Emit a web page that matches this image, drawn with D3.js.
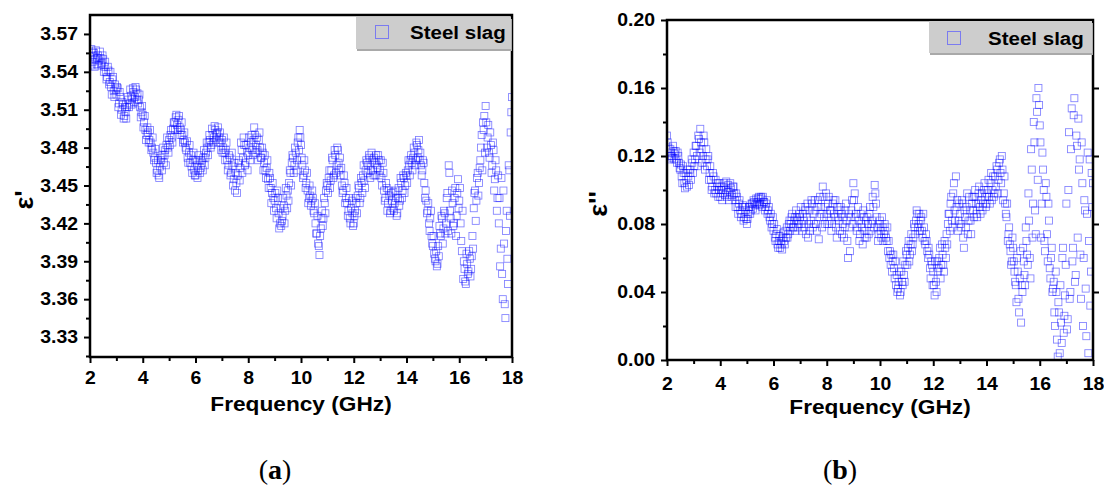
<!DOCTYPE html>
<html><head><meta charset="utf-8">
<script src="https://cdn.jsdelivr.net/npm/d3@7"></script>
<style>body{margin:0;background:#fff}</style>
</head><body><svg id="c" width="1104" height="494"></svg>
<script>
const freq = [
2,2.05,2.1,2.15,2.2,2.25,2.3,2.35,2.4,2.45,
2.5,2.55,2.6,2.65,2.7,2.75,2.8,2.85,2.9,2.95,
3,3.05,3.1,3.15,3.2,3.25,3.3,3.35,3.4,3.45,
3.5,3.55,3.6,3.65,3.7,3.75,3.8,3.85,3.9,3.95,
4,4.05,4.1,4.15,4.2,4.25,4.3,4.35,4.4,4.45,
4.5,4.55,4.6,4.65,4.7,4.75,4.8,4.85,4.9,4.95,
5,5.05,5.1,5.15,5.2,5.25,5.3,5.35,5.4,5.45,
5.5,5.55,5.6,5.65,5.7,5.75,5.8,5.85,5.9,5.95,
6,6.05,6.1,6.15,6.2,6.25,6.3,6.35,6.4,6.45,
6.5,6.55,6.6,6.65,6.7,6.75,6.8,6.85,6.9,6.95,
7,7.05,7.1,7.15,7.2,7.25,7.3,7.35,7.4,7.45,
7.5,7.55,7.6,7.65,7.7,7.75,7.8,7.85,7.9,7.95,
8,8.05,8.1,8.15,8.2,8.25,8.3,8.35,8.4,8.45,
8.5,8.55,8.6,8.65,8.7,8.75,8.8,8.85,8.9,8.95,
9,9.05,9.1,9.15,9.2,9.25,9.3,9.35,9.4,9.45,
9.5,9.55,9.6,9.65,9.7,9.75,9.8,9.85,9.9,9.95,
10,10.05,10.1,10.15,10.2,10.25,10.3,10.35,10.4,10.45,
10.5,10.55,10.6,10.65,10.7,10.75,10.8,10.85,10.9,10.95,
11,11.05,11.1,11.15,11.2,11.25,11.3,11.35,11.4,11.45,
11.5,11.55,11.6,11.65,11.7,11.75,11.8,11.85,11.9,11.95,
12,12.05,12.1,12.15,12.2,12.25,12.3,12.35,12.4,12.45,
12.5,12.55,12.6,12.65,12.7,12.75,12.8,12.85,12.9,12.95,
13,13.05,13.1,13.15,13.2,13.25,13.3,13.35,13.4,13.45,
13.5,13.55,13.6,13.65,13.7,13.75,13.8,13.85,13.9,13.95,
14,14.05,14.1,14.15,14.2,14.25,14.3,14.35,14.4,14.45,
14.5,14.55,14.6,14.65,14.7,14.75,14.8,14.85,14.9,14.95,
15,15.05,15.1,15.15,15.2,15.25,15.3,15.35,15.4,15.45,
15.5,15.55,15.6,15.65,15.7,15.75,15.8,15.85,15.9,15.95,
16,16.05,16.1,16.15,16.2,16.25,16.3,16.35,16.4,16.45,
16.5,16.55,16.6,16.65,16.7,16.75,16.8,16.85,16.9,16.95,
17,17.05,17.1,17.15,17.2,17.25,17.3,17.35,17.4,17.45,
17.5,17.55,17.6,17.65,17.7,17.75,17.8,17.85,17.9,17.95,
18];

const freqHalf = [
2.025,2.075,2.125,2.175,2.225,2.275,2.325,2.375,2.425,2.475,
2.525,2.575,2.625,2.675,2.725,2.775,2.825,2.875,2.925,2.975,
3.025,3.075,3.125,3.175,3.225,3.275,3.325,3.375,3.425,3.475,
3.525,3.575,3.625,3.675,3.725,3.775,3.825,3.875,3.925,3.975,
4.025,4.075,4.125,4.175,4.225,4.275,4.325,4.375,4.425,4.475,
4.525,4.575,4.625,4.675,4.725,4.775,4.825,4.875,4.925,4.975,
5.025,5.075,5.125,5.175,5.225,5.275,5.325,5.375,5.425,5.475,
5.525,5.575,5.625,5.675,5.725,5.775,5.825,5.875,5.925,5.975,
6.025,6.075,6.125,6.175,6.225,6.275,6.325,6.375,6.425,6.475,
6.525,6.575,6.625,6.675,6.725,6.775,6.825,6.875,6.925,6.975,
7.025,7.075,7.125,7.175,7.225,7.275,7.325,7.375,7.425,7.475,
7.525,7.575,7.625,7.675,7.725,7.775,7.825,7.875,7.925,7.975,
8.025,8.075,8.125,8.175,8.225,8.275,8.325,8.375,8.425,8.475,
8.525,8.575,8.625,8.675,8.725,8.775,8.825,8.875,8.925,8.975,
9.025,9.075,9.125,9.175,9.225,9.275,9.325,9.375,9.425,9.475,
9.525,9.575,9.625,9.675,9.725,9.775,9.825,9.875,9.925,9.975,
10.025,10.075,10.125,10.175,10.225,10.275,10.325,10.375,10.425,10.475,
10.525,10.575,10.625,10.675,10.725,10.775,10.825,10.875,10.925,10.975,
11.025,11.075,11.125,11.175,11.225,11.275,11.325,11.375,11.425,11.475,
11.525,11.575,11.625,11.675,11.725,11.775,11.825,11.875,11.925,11.975,
12.025,12.075,12.125,12.175,12.225,12.275,12.325,12.375,12.425,12.475,
12.525,12.575,12.625,12.675,12.725,12.775,12.825,12.875,12.925,12.975,
13.025,13.075,13.125,13.175,13.225,13.275,13.325,13.375,13.425,13.475,
13.525,13.575,13.625,13.675,13.725,13.775,13.825,13.875,13.925,13.975,
14.025,14.075,14.125,14.175,14.225,14.275,14.325,14.375,14.425,14.475,
14.525,14.575,14.625,14.675,14.725,14.775,14.825,14.875,14.925,14.975,
15.025,15.075,15.125,15.175,15.225,15.275,15.325,15.375,15.425,15.475,
15.525,15.575,15.625,15.675,15.725,15.775,15.825,15.875,15.925,15.975,
16.025,16.075,16.125,16.175,16.225,16.275,16.325,16.375,16.425,16.475,
16.525,16.575,16.625,16.675,16.725,16.775,16.825,16.875,16.925,16.975,
17.025,17.075,17.125,17.175,17.225,17.275,17.325,17.375,17.425,17.475,
17.525,17.575,17.625,17.675,17.725,17.775,17.825,17.875,17.925,17.975];

const epsReal = [
3.552,3.558,3.548,3.555,3.550,3.546,3.553,3.549,3.551,3.547,
3.550,3.544,3.540,3.536,3.541,3.532,3.528,3.534,3.525,3.530,
3.522,3.527,3.515,3.520,3.510,3.514,3.505,3.508,3.512,3.518,
3.515,3.521,3.519,3.524,3.520,3.526,3.523,3.518,3.512,3.508,
3.506,3.500,3.494,3.490,3.492,3.486,3.484,3.480,3.476,3.472,
3.468,3.462,3.458,3.465,3.470,3.474,3.468,3.478,3.482,3.480,
3.486,3.490,3.488,3.495,3.500,3.504,3.498,3.502,3.496,3.494,
3.490,3.486,3.484,3.478,3.472,3.476,3.468,3.465,3.470,3.462,
3.458,3.466,3.462,3.470,3.464,3.468,3.472,3.466,3.476,3.480,
3.484,3.486,3.482,3.490,3.488,3.494,3.491,3.496,3.488,3.484,
3.486,3.480,3.476,3.478,3.470,3.466,3.472,3.460,3.465,3.455,
3.446,3.452,3.458,3.470,3.464,3.478,3.472,3.482,3.468,3.476,
3.474,3.480,3.484,3.478,3.486,3.490,3.482,3.478,3.486,3.480,
3.472,3.476,3.468,3.462,3.464,3.455,3.460,3.448,3.444,3.440,
3.438,3.432,3.446,3.428,3.420,3.418,3.426,3.434,3.430,3.442,
3.446,3.452,3.460,3.468,3.472,3.466,3.476,3.470,3.488,3.494,
3.482,3.466,3.458,3.462,3.452,3.446,3.440,3.442,3.438,3.440,
3.428,3.420,3.412,3.404,3.395,3.416,3.430,3.424,3.436,3.446,
3.450,3.456,3.448,3.462,3.470,3.458,3.474,3.466,3.478,3.462,
3.458,3.450,3.446,3.452,3.440,3.436,3.430,3.424,3.432,3.428,
3.420,3.430,3.436,3.442,3.448,3.440,3.452,3.458,3.454,3.462,
3.468,3.466,3.472,3.462,3.470,3.458,3.468,3.474,3.464,3.470,
3.462,3.456,3.468,3.446,3.440,3.448,3.436,3.442,3.430,3.438,
3.445,3.436,3.440,3.428,3.448,3.438,3.452,3.446,3.456,3.450,
3.458,3.462,3.466,3.470,3.468,3.472,3.476,3.470,3.482,3.478,
3.470,3.466,3.462,3.468,3.440,3.438,3.430,3.420,3.424,3.410,
3.402,3.396,3.390,3.386,3.402,3.418,3.410,3.424,3.416,3.428,
3.420,3.444,3.466,3.430,3.412,3.436,3.420,3.448,3.426,3.455,
3.438,3.420,3.398,3.376,3.384,3.372,3.388,3.382,3.392,3.384,
3.410,3.432,3.446,3.438,3.460,3.452,3.470,3.490,3.500,3.505,
3.513,3.480,3.498,3.472,3.482,3.466,3.478,3.455,3.462,3.440,
3.420,3.386,3.456,3.360,3.404,3.345,3.430,3.372,3.462,3.492,
3.520];

const epsRealHalf = [
3.545,3.556,3.553,3.544,3.557,3.551,3.545,3.556,3.546,3.553,
3.540,3.548,3.534,3.544,3.530,3.540,3.522,3.536,3.520,3.526,
3.528,3.512,3.524,3.506,3.516,3.503,3.512,3.503,3.520,3.512,
3.526,3.514,3.527,3.516,3.528,3.518,3.515,3.522,3.504,3.513,
3.496,3.505,3.486,3.496,3.484,3.494,3.478,3.488,3.470,3.479,
3.460,3.470,3.456,3.472,3.462,3.480,3.474,3.466,3.488,3.476,
3.482,3.494,3.484,3.500,3.494,3.506,3.494,3.505,3.490,3.500,
3.484,3.492,3.480,3.485,3.468,3.482,3.474,3.460,3.476,3.458,
3.470,3.456,3.474,3.460,3.470,3.462,3.478,3.472,3.484,3.474,
3.490,3.480,3.495,3.484,3.497,3.486,3.492,3.484,3.492,3.478,
3.476,3.488,3.470,3.484,3.462,3.474,3.458,3.476,3.450,3.468,
3.460,3.444,3.468,3.454,3.484,3.460,3.488,3.466,3.482,3.462,
3.488,3.470,3.490,3.474,3.496,3.476,3.488,3.470,3.492,3.472,
3.480,3.462,3.474,3.456,3.470,3.448,3.456,3.436,3.452,3.430,
3.444,3.424,3.440,3.416,3.432,3.422,3.440,3.420,3.448,3.432,
3.438,3.462,3.450,3.474,3.460,3.480,3.462,3.484,3.478,3.488,
3.472,3.456,3.470,3.448,3.460,3.436,3.450,3.434,3.446,3.430,
3.436,3.412,3.426,3.402,3.410,3.424,3.418,3.440,3.428,3.452,
3.444,3.462,3.454,3.472,3.456,3.478,3.460,3.480,3.468,3.472,
3.464,3.444,3.458,3.436,3.448,3.426,3.440,3.420,3.438,3.418,
3.426,3.440,3.428,3.450,3.436,3.456,3.444,3.466,3.448,3.470,
3.460,3.474,3.456,3.476,3.462,3.472,3.458,3.466,3.474,3.458,
3.470,3.450,3.460,3.438,3.452,3.430,3.446,3.428,3.444,3.432,
3.430,3.446,3.426,3.440,3.434,3.456,3.440,3.458,3.444,3.460,
3.452,3.470,3.458,3.474,3.462,3.480,3.466,3.484,3.472,3.486,
3.476,3.458,3.470,3.452,3.446,3.428,3.436,3.414,3.430,3.404,
3.410,3.392,3.398,3.388,3.394,3.412,3.426,3.404,3.430,3.412,
3.440,3.414,3.460,3.424,3.446,3.418,3.440,3.410,3.444,3.432,
3.448,3.406,3.430,3.390,3.374,3.396,3.380,3.398,3.378,3.394,
3.400,3.444,3.422,3.456,3.442,3.464,3.480,3.462,3.494,3.476,
3.500,3.488,3.476,3.492,3.460,3.484,3.446,3.470,3.430,3.458,
3.440,3.400,3.380,3.446,3.356,3.414,3.392,3.466,3.426,3.508];

const epsImag = [
0.132,0.125,0.120,0.122,0.119,0.123,0.121,0.118,0.122,0.116,
0.112,0.108,0.114,0.104,0.110,0.102,0.108,0.112,0.106,0.116,
0.122,0.118,0.126,0.114,0.130,0.136,0.124,0.120,0.128,0.118,
0.114,0.120,0.110,0.106,0.102,0.108,0.100,0.098,0.104,0.100,
0.096,0.102,0.098,0.104,0.100,0.096,0.103,0.099,0.101,0.097,
0.102,0.094,0.098,0.090,0.092,0.088,0.086,0.091,0.084,0.088,
0.080,0.086,0.090,0.088,0.092,0.094,0.091,0.095,0.093,0.096,
0.092,0.095,0.096,0.093,0.090,0.094,0.088,0.084,0.086,0.080,
0.076,0.072,0.074,0.068,0.070,0.066,0.068,0.072,0.070,0.076,
0.078,0.074,0.082,0.080,0.086,0.078,0.084,0.088,0.082,0.080,
0.084,0.080,0.086,0.078,0.090,0.084,0.072,0.088,0.082,0.092,
0.086,0.094,0.080,0.090,0.071,0.096,0.086,0.102,0.084,0.090,
0.086,0.092,0.082,0.088,0.080,0.094,0.084,0.078,0.090,0.082,
0.076,0.086,0.080,0.072,0.088,0.082,0.060,0.078,0.084,0.094,
0.104,0.098,0.086,0.078,0.082,0.074,0.080,0.068,0.084,0.076,
0.072,0.080,0.086,0.076,0.082,0.090,0.103,0.092,0.078,0.074,
0.082,0.072,0.078,0.074,0.076,0.070,0.064,0.060,0.056,0.052,
0.062,0.048,0.044,0.040,0.046,0.038,0.052,0.044,0.050,0.056,
0.062,0.066,0.058,0.068,0.064,0.072,0.078,0.082,0.086,0.080,
0.076,0.084,0.072,0.078,0.068,0.070,0.060,0.062,0.048,0.056,
0.052,0.038,0.046,0.058,0.054,0.066,0.056,0.062,0.052,0.066,
0.074,0.080,0.086,0.092,0.082,0.098,0.088,0.108,0.094,0.082,
0.086,0.078,0.092,0.066,0.084,0.090,0.074,0.096,0.082,0.092,
0.088,0.096,0.092,0.084,0.098,0.090,0.094,0.088,0.100,0.096,
0.092,0.100,0.096,0.104,0.094,0.108,0.098,0.102,0.112,0.106,
0.118,0.104,0.112,0.098,0.092,0.084,0.070,0.078,0.064,0.058,
0.066,0.052,0.044,0.060,0.036,0.048,0.022,0.040,0.058,0.044,
0.070,0.056,0.082,0.048,0.112,0.092,0.128,0.074,0.146,0.160,
0.138,0.072,0.122,0.100,0.064,0.096,0.058,0.082,0.048,0.066,
0.042,0.028,0.052,0.012,0.034,0.004,0.022,0.060,0.016,0.038,
0.092,0.024,0.134,0.040,0.148,0.066,0.154,0.050,0.126,0.142,
0.118,0.036,0.104,0.060,0.088,0.014,0.122,0.070,0.032,0.110,
0.104];

const epsImagHalf = [
0.128,0.118,0.124,0.120,0.126,0.118,0.123,0.116,0.120,0.113,
0.115,0.104,0.110,0.101,0.106,0.112,0.103,0.110,0.118,0.110,
0.114,0.126,0.120,0.132,0.122,0.128,0.116,0.132,0.112,0.124,
0.118,0.106,0.114,0.100,0.110,0.098,0.106,0.102,0.096,0.104,
0.100,0.094,0.102,0.097,0.105,0.099,0.094,0.104,0.096,0.102,
0.098,0.090,0.096,0.086,0.094,0.084,0.090,0.082,0.090,0.083,
0.083,0.090,0.086,0.092,0.089,0.093,0.088,0.092,0.095,0.091,
0.096,0.090,0.093,0.088,0.092,0.086,0.090,0.082,0.078,0.084,
0.080,0.070,0.077,0.066,0.073,0.070,0.065,0.075,0.068,0.072,
0.072,0.080,0.076,0.084,0.078,0.082,0.076,0.084,0.078,0.086,
0.090,0.076,0.082,0.088,0.074,0.092,0.080,0.076,0.094,0.078,
0.080,0.088,0.076,0.094,0.084,0.090,0.078,0.096,0.080,0.098,
0.080,0.096,0.088,0.076,0.092,0.086,0.094,0.072,0.084,0.088,
0.090,0.074,0.084,0.078,0.092,0.070,0.086,0.064,0.088,0.080,
0.094,0.084,0.076,0.090,0.070,0.086,0.078,0.088,0.072,0.082,
0.084,0.074,0.090,0.080,0.096,0.078,0.098,0.084,0.070,0.080,
0.076,0.084,0.070,0.080,0.072,0.078,0.070,0.064,0.062,0.058,
0.054,0.058,0.050,0.042,0.052,0.040,0.046,0.058,0.046,0.064,
0.056,0.070,0.062,0.074,0.068,0.080,0.074,0.088,0.078,0.086,
0.082,0.076,0.086,0.070,0.074,0.064,0.066,0.054,0.058,0.044,
0.044,0.058,0.040,0.052,0.060,0.048,0.068,0.056,0.070,0.060,
0.068,0.086,0.076,0.096,0.078,0.104,0.082,0.090,0.076,0.092,
0.080,0.094,0.072,0.088,0.078,0.098,0.082,0.088,0.074,0.096,
0.084,0.100,0.086,0.092,0.102,0.086,0.098,0.092,0.104,0.090,
0.098,0.106,0.092,0.110,0.100,0.096,0.108,0.114,0.098,0.116,
0.110,0.120,0.094,0.108,0.086,0.092,0.074,0.068,0.056,0.072,
0.058,0.046,0.034,0.052,0.028,0.064,0.044,0.066,0.050,0.078,
0.062,0.098,0.060,0.124,0.072,0.140,0.088,0.154,0.106,0.150,
0.128,0.092,0.112,0.070,0.104,0.074,0.092,0.054,0.060,0.040,
0.046,0.020,0.040,0.002,0.028,0.044,0.010,0.066,0.026,0.056,
0.018,0.100,0.036,0.124,0.058,0.144,0.046,0.132,0.072,0.112,
0.062,0.128,0.020,0.094,0.042,0.086,0.004,0.118,0.052,0.090];

const xTicks = [2,4,6,8,10,12,14,16,18];
const xMinorTicks = [3,5,7,9,11,13,15,17];
const yTicksA = [3.33,3.36,3.39,3.42,3.45,3.48,3.51,3.54,3.57];
const yMinorA = [3.315,3.345,3.375,3.405,3.435,3.465,3.495,3.525,3.555];
const yTicksB = [0,0.04,0.08,0.12,0.16,0.20];
const yMinorB = [0.02,0.06,0.10,0.14,0.18];
const legendLabel = "Steel slag";
const xTitle = "Frequency (GHz)";

const SX = 1.08;
const FONT = "'Liberation Sans', Arial, sans-serif";
const svg = d3.select("#c");
svg.append("rect").attr("width",1104).attr("height",494).attr("fill","#fff");

function txt(g, s, x, y, size, anchor, rot){
  return g.append("text")
    .attr("transform", `translate(${x},${y})` + (rot ? ` rotate(${rot})` : "") + ` scale(${SX},1)`)
    .attr("text-anchor", anchor).attr("font-family", FONT).attr("font-weight","bold")
    .attr("font-size", size).attr("fill","#000").text(s);
}

function panel(cfg){
  const g = svg.append("g");
  const x = d3.scaleLinear().domain([2,18]).range([cfg.left, cfg.right]);
  const y = d3.scaleLinear().domain(cfg.yDomain).range([cfg.bottom, cfg.top]);
  const id = "clip" + cfg.name;
  svg.append("clipPath").attr("id", id).append("rect")
    .attr("x", cfg.left).attr("y", cfg.top).attr("width", cfg.right-cfg.left).attr("height", cfg.bottom-cfg.top);

  const pts = freq.map((f,i)=>[f, cfg.values[i]])
    .concat(freqHalf.map((f,i)=>[f, cfg.valuesHalf[i]]));

  g.append("g").attr("clip-path", `url(#${id})`)
    .selectAll("rect").data(pts).join("rect")
    .attr("x", d=>x(d[0])-3.5).attr("y", d=>y(d[1])-3.5)
    .attr("width",7).attr("height",7)
    .attr("fill","none").attr("stroke","#0000ff").attr("stroke-opacity",0.5).attr("stroke-width",0.85);

  const style = sel => { sel.select(".domain").remove(); sel.selectAll("line").attr("stroke","#000").attr("stroke-width",2);
    sel.selectAll("text").attr("font-family",FONT).attr("font-weight","bold").attr("font-size",18).attr("fill","#000").attr("transform",`scale(${SX},1)`); };

  g.append("g").attr("transform",`translate(0,${cfg.bottom})`)
    .call(d3.axisBottom(x).tickValues(xTicks).tickSize(6).tickPadding(cfg.xPad).tickFormat(d3.format("d"))).call(style);
  g.append("g").attr("transform",`translate(0,${cfg.bottom})`)
    .call(d3.axisBottom(x).tickValues(xMinorTicks).tickSize(4).tickFormat("")).call(style);
  g.append("g").attr("transform",`translate(${cfg.left},0)`)
    .call(d3.axisLeft(y).tickValues(cfg.yTicks).tickSize(6).tickPadding(5).tickFormat(d3.format(".2f"))).call(style);
  g.append("g").attr("transform",`translate(${cfg.left},0)`)
    .call(d3.axisLeft(y).tickValues(cfg.yMinor).tickSize(4).tickFormat("")).call(style);
  if (cfg.rightTicks){
    g.append("g").attr("transform",`translate(${cfg.right},0)`)
      .call(d3.axisRight(y).tickValues(cfg.yTicks.filter(v=>v>0 && v<0.2)).tickSize(6).tickFormat("")).call(style);
  }

  g.append("rect").attr("x",cfg.left).attr("y",cfg.top)
    .attr("width",cfg.right-cfg.left).attr("height",cfg.bottom-cfg.top)
    .attr("fill","none").attr("stroke","#000").attr("stroke-width",2.5);

  const L = cfg.legend;
  g.append("rect").attr("x",L.x+1).attr("y",L.y+2).attr("width",L.w).attr("height",L.h).attr("fill","#a9a9a9");
  g.append("rect").attr("x",L.x).attr("y",L.y).attr("width",L.w).attr("height",L.h).attr("fill","#cdcdcd");
  g.append("rect").attr("x",L.mx-6.5).attr("y",L.my-6.5).attr("width",13).attr("height",13)
    .attr("fill","none").attr("stroke","#7b7bf0").attr("stroke-width",1);
  txt(g, legendLabel, L.tx, L.ty, 19, "start");

  txt(g, xTitle, (cfg.left+cfg.right)/2, cfg.xTitleY, 21, "middle");
  txt(g, cfg.yTitle, cfg.yTitleX, (cfg.top+cfg.bottom)/2 + 14, 25, "middle", -90);

  const t = g.append("text").attr("x", cfg.labelX).attr("y", 479).attr("text-anchor","middle")
    .attr("font-family","'Liberation Serif', 'Times New Roman', serif").attr("font-size",28).attr("fill","#000");
  t.append("tspan").text("(");
  t.append("tspan").attr("font-weight","bold").text(cfg.name);
  t.append("tspan").text(")");
}

panel({name:"a", left:90, right:512, top:15, bottom:357, yDomain:[3.3142,3.585],
  values:epsReal, valuesHalf:epsRealHalf, yTicks:yTicksA, yMinor:yMinorA, xPad:8, rightTicks:false,
  legend:{x:356,y:17,w:155,h:32,mx:382,my:32,tx:410,ty:39},
  xTitleY:411, yTitle:"ε'", yTitleX:33, labelX:275});

panel({name:"b", left:667, right:1093, top:20, bottom:360, yDomain:[0,0.2],
  values:epsImag, valuesHalf:epsImagHalf, yTicks:yTicksB, yMinor:yMinorB, xPad:11, rightTicks:true,
  legend:{x:929,y:21,w:163,h:32,mx:954,my:38,tx:988,ty:45},
  xTitleY:414, yTitle:"ε''", yTitleX:607, labelX:840});
</script></body></html>
